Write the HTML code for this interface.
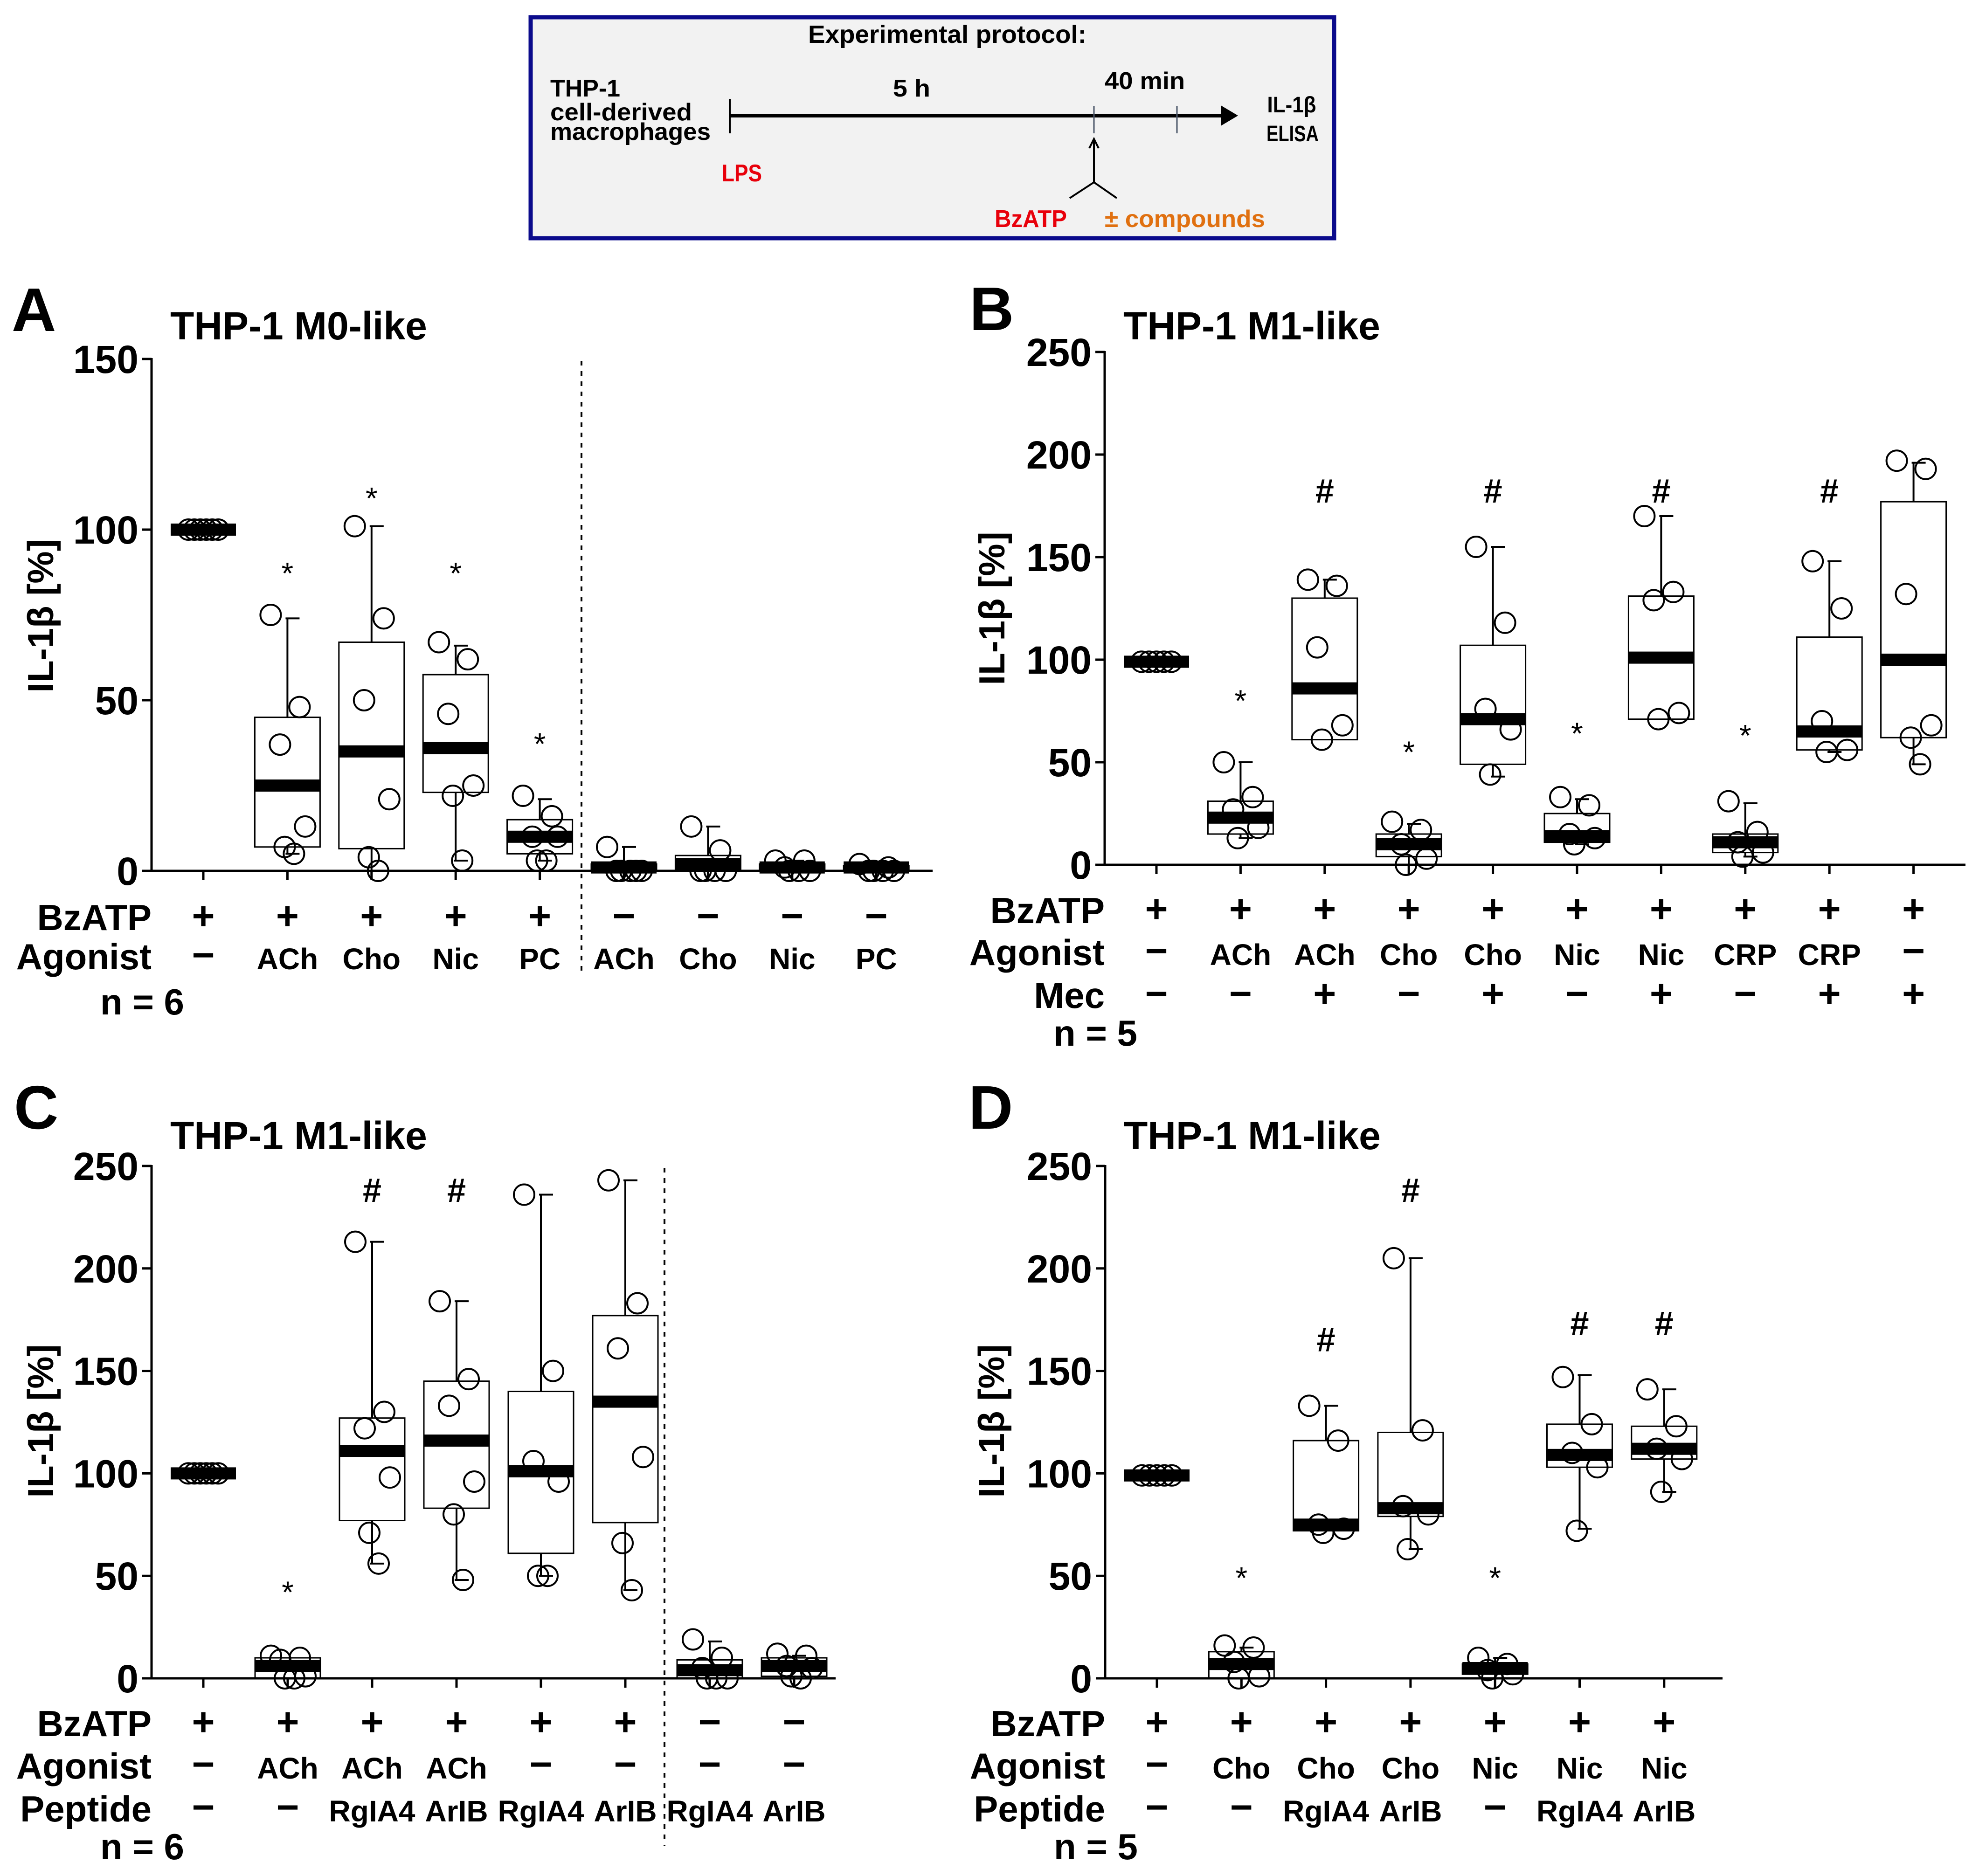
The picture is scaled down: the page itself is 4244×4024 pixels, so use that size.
<!DOCTYPE html>
<html><head><meta charset="utf-8"><title>IL-1β box plots</title>
<style>
html,body{margin:0;padding:0;background:#fff}
svg{display:block}
text{font-family:"Liberation Sans",sans-serif}
</style></head>
<body>
<svg id="fig" xmlns="http://www.w3.org/2000/svg" width="4244" height="4024" viewBox="0 0 4244 4024">
<rect x="0" y="0" width="4244" height="4024" fill="#fff"/>
<g id="protocol">
  <rect x="1138" y="37" width="1723" height="474" fill="#f2f2f2" stroke="#0b0b8c" stroke-width="9"/>
  <text x="1733" y="92" font-size="54" font-weight="bold" textLength="597" lengthAdjust="spacingAndGlyphs">Experimental protocol:</text>
  <text x="1180" y="207" font-size="52" font-weight="bold" textLength="150" lengthAdjust="spacingAndGlyphs">THP-1</text>
  <text x="1180" y="258" font-size="52" font-weight="bold" textLength="304" lengthAdjust="spacingAndGlyphs">cell-derived</text>
  <text x="1180" y="300" font-size="52" font-weight="bold" textLength="344" lengthAdjust="spacingAndGlyphs">macrophages</text>
  <line x1="1565" y1="212" x2="1565" y2="286" stroke="#000" stroke-width="4"/>
  <line x1="1565" y1="248" x2="2620" y2="248" stroke="#000" stroke-width="8"/>
  <polygon points="2655,248 2618,226 2618,270" fill="#000"/>
  <line x1="2346" y1="227" x2="2346" y2="286" stroke="#4a5568" stroke-width="3"/>
  <line x1="2524" y1="227" x2="2524" y2="286" stroke="#4a5568" stroke-width="3"/>
  <text x="1955" y="207" font-size="52" font-weight="bold" text-anchor="middle" textLength="80" lengthAdjust="spacingAndGlyphs">5 h</text>
  <text x="2455" y="191" font-size="52" font-weight="bold" text-anchor="middle" textLength="172" lengthAdjust="spacingAndGlyphs">40 min</text>
  <text x="2770" y="241" font-size="48" font-weight="bold" text-anchor="middle" textLength="105" lengthAdjust="spacingAndGlyphs">IL-1β</text>
  <text x="2772" y="303" font-size="48" font-weight="bold" text-anchor="middle" textLength="112" lengthAdjust="spacingAndGlyphs">ELISA</text>
  <line x1="2346" y1="300" x2="2346" y2="391" stroke="#000" stroke-width="4"/>
  <polyline points="2336,318 2346,298 2356,318" fill="none" stroke="#000" stroke-width="4"/>
  <polyline points="2294,425 2346,391 2395,425" fill="none" stroke="#000" stroke-width="4"/>
  <text x="1548" y="389" font-size="52" font-weight="bold" fill="#e8000b" textLength="86" lengthAdjust="spacingAndGlyphs">LPS</text>
  <text x="2133" y="487" font-size="52" font-weight="bold" fill="#e8000b" textLength="155" lengthAdjust="spacingAndGlyphs">BzATP</text>
  <text x="2369" y="487" font-size="52" font-weight="bold" fill="#e07010" textLength="344" lengthAdjust="spacingAndGlyphs">± compounds</text>
</g>
<g id="plots"></g>
</svg>
<script>
// ===== Panel A data =====
const aTicks = [0, 50, 100, 150];
const aMedian = [100, 25, 35, 36, 10, 1, 2, 1, 1];
const aQ1 = [100, 7, 6.5, 23, 5, 0, 0, 0, 0];
const aQ3 = [100, 45, 67, 57.5, 15, 2, 4.5, 2, 1.5];
const aWLow = [100, 5, 0, 3, 3, 0, 0, 0, 0];
const aWHigh = [100, 74, 101, 66, 21, 7, 13, 3, 2];
const aPoints = [[100,100,100,100,100,100],[75,48,37,13,7,5],[101,74,50,21,4,0],[67,62,46,25,22,3],[22,16,10,10,3,3],[7,0,0,0,0,0],[13,6,0,0,0,0],[3,3,1,0,0,0],[2,1,0,0,0,0]];
const aMarks = ['', '*', '*', '*', '*', '', '', '', ''];
const aMarkY = [0, 89, 111, 89, 39, 0, 0, 0, 0];
const aRowBzATP = ['+','+','+','+','+','−','−','−','−'];
const aRowAgonist = ['−','ACh','Cho','Nic','PC','ACh','Cho','Nic','PC'];

// ===== Panel B data =====
const bTicks = [0, 50, 100, 150, 200, 250];
const bMedian = [99, 23, 86, 10, 71, 14, 101, 11, 65, 100];
const bQ1 = [99, 15, 61, 4, 49, 11, 71, 6, 56, 62];
const bQ3 = [99, 31, 130, 15, 107, 25, 131, 15, 111, 177];
const bWLow = [99, 13, 61, 0, 43, 10, 71, 4, 55, 49];
const bWHigh = [99, 50, 139, 20, 155, 32, 170, 30, 148, 196];
const bPoints = [[99,99,99,99,99],[50,33,27,18,13],[139,136,106,68,61],[21,17,10,3,0],[155,118,76,66,44],[33,29,15,13,10],[170,133,129,74,71],[31,16,11,6,4],[148,125,70,56,55],[197,193,132,68,62,49]];
const bMarks = ['', '*', '#', '*', '#', '*', '#', '*', '#', ''];
const bMarkY = [0, 83, 182, 58, 182, 67, 182, 66, 182, 0];
const bRowBzATP = ['+','+','+','+','+','+','+','+','+','+'];
const bRowAgonist = ['−','ACh','ACh','Cho','Cho','Nic','Nic','CRP','CRP','−'];
const bRowMec = ['−','−','+','−','+','−','+','−','+','+'];

// ===== Panel C data =====
const cTicks = [0, 50, 100, 150, 200, 250];
const cMedian = [100, 6, 111, 116, 101, 135, 4, 6];
const cQ1 = [100, 0, 77, 83, 61, 76, 0, 1];
const cQ3 = [100, 10, 127, 145, 140, 177, 9, 10];
const cWLow = [100, 0, 56, 48, 50, 43, 0, 0];
const cWHigh = [100, 10, 213, 184, 236, 243, 18, 11];
const cPoints = [[100,100,100,100,100,100],[11,10,9,1,0,0],[213,130,122,98,71,56],[184,146,133,96,80,48],[236,150,106,96,50,50],[243,183,161,108,66,43],[19,10,5,0,0,0],[12,11,6,5,1,0]];
const cMarks = ['', '*', '#', '#', '', '', '', ''];
const cMarkY = [0, 45, 238, 238, 0, 0, 0, 0];
const cRowBzATP = ['+','+','+','+','+','+','−','−'];
const cRowAgonist = ['−','ACh','ACh','ACh','−','−','−','−'];
const cRowPeptide = ['−','−','RgIA4','ArIB','RgIA4','ArIB','RgIA4','ArIB'];

// ===== Panel D data =====
const dTicks = [0, 50, 100, 150, 200, 250];
const dMedian = [99, 7, 75, 83, 5, 109, 112];
const dQ1 = [99, 0, 72, 79, 2, 103, 107];
const dQ3 = [99, 13, 116, 120, 7, 124, 123];
const dWLow = [99, 0, 72, 63, 0, 73, 91];
const dWHigh = [99, 15, 133, 205, 10, 148, 141];
const dPoints = [[99,99,99,99,99],[16,15,8,1,0],[133,116,75,73,71],[205,121,84,80,63],[10,7,4,2,0],[147,124,110,103,72],[141,123,112,107,91]];
const dMarks = ['', '*', '#', '#', '*', '#', '#'];
const dMarkY = [0, 52, 165, 238, 52, 173, 173];
const dRowBzATP = ['+','+','+','+','+','+','+'];
const dRowAgonist = ['−','Cho','Cho','Cho','Nic','Nic','Nic'];
const dRowPeptide = ['−','−','RgIA4','ArIB','−','RgIA4','ArIB'];

const NS = 'http://www.w3.org/2000/svg';
const root = document.getElementById('plots');
function mk(tag, attrs, parent) {
  const e = document.createElementNS(NS, tag);
  for (const k in attrs) e.setAttribute(k, attrs[k]);
  parent.appendChild(e);
  return e;
}
const JIT = [-36, 26, -16, 38, -6, 14];

function drawPanel(P) {
  const g = mk('g', {}, root);
  
  
  const y = v => P.y0 - v * (P.y0 - P.yTop) / P.max;
  const x = i => P.cat0 + i * P.step;

  const L = mk('text', {x: P.letterX, y: P.letterY, 'font-size': 132, 'font-weight': 'bold'}, g);
  L.textContent = P.letter;
  
  
  const T = mk('text', {x: P.axisX + 40, y: P.titleY, 'font-size': 84, 'font-weight': 'bold'}, g);
  T.textContent = P.title;
  
  

  const YT = mk('text', {x: 0, y: 0, 'font-size': 78, 'font-weight': 'bold', 'text-anchor': 'middle', transform: 'translate(' + (P.yTitleX + 52) + ',' + P.yTitleY + ') rotate(-90)'}, g);
  YT.textContent = 'IL-1β [%]';
  
  

  const ya = mk('line', {x1: P.axisX, y1: P.yTop - 2, x2: P.axisX, y2: P.y0, stroke: '#000', 'stroke-width': 5}, g);
  
  
  const xa = mk('line', {x1: P.axisX, y1: P.y0, x2: P.axisEnd, y2: P.y0, stroke: '#000', 'stroke-width': 5}, g);
  
  

  P.ticks.forEach(t => {
    const tl = mk('line', {x1: P.axisX - 20, y1: y(t), x2: P.axisX, y2: y(t), stroke: '#000', 'stroke-width': 5}, g);
    
    
    const tx = mk('text', {x: P.axisX - 28, y: y(t) + 30, 'font-size': 84, 'font-weight': 'bold', 'text-anchor': 'end'}, g);
    tx.textContent = t;
    
    
  });

  if (P.dotX) {
    const dl = mk('line', {x1: P.dotX, y1: P.yTop + 4, x2: P.dotX, y2: P.dotBottom, stroke: '#000', 'stroke-width': 4, 'stroke-dasharray': '10 12'}, g);
    
    
  }

  const W = 140;
  P.median.forEach((m, i) => {
    const cx = x(i);
    const bg = mk('g', {}, g);
    
    
    mk('line', {x1: cx, y1: P.y0, x2: cx, y2: P.y0 + 20, stroke: '#000', 'stroke-width': 5}, bg);
    if (P.wHigh[i] > P.q3[i]) {
      mk('line', {x1: cx, y1: y(P.q3[i]), x2: cx, y2: y(P.wHigh[i]), stroke: '#000', 'stroke-width': 4}, bg);
      mk('line', {x1: cx - 4, y1: y(P.wHigh[i]), x2: cx + 26, y2: y(P.wHigh[i]), stroke: '#000', 'stroke-width': 4}, bg);
    }
    if (P.wLow[i] < P.q1[i]) {
      mk('line', {x1: cx, y1: y(P.q1[i]), x2: cx, y2: y(P.wLow[i]), stroke: '#000', 'stroke-width': 4}, bg);
      mk('line', {x1: cx - 4, y1: y(P.wLow[i]), x2: cx + 26, y2: y(P.wLow[i]), stroke: '#000', 'stroke-width': 4}, bg);
    }
    const h = Math.max(0, y(P.q1[i]) - y(P.q3[i]));
    if (h > 2) mk('rect', {x: cx - W / 2, y: y(P.q3[i]), width: W, height: h, fill: 'none', stroke: '#000', 'stroke-width': 3}, bg);
    mk('rect', {x: cx - W / 2, y: y(m) - 13, width: W, height: 26, fill: '#000'}, bg);
    const pts = P.points[i];
    const isCtrl = i === 0;
    pts.forEach((v, k) => {
      const off = isCtrl ? (-32 + 64 * k / Math.max(1, pts.length - 1)) : JIT[k % 6];
      const c = mk('circle', {cx: cx + off, cy: y(v), r: 22, fill: 'none', stroke: '#000', 'stroke-width': 4}, bg);
      
      
    });
    if (P.marks[i]) {
      const star = P.marks[i] === '*';
      const mt = mk('text', {x: cx, y: y(P.markY[i]) + (star ? 36 : 24), 'font-size': star ? 66 : 72, 'font-weight': star ? 'normal' : 'bold', 'text-anchor': 'middle'}, g);
      mt.textContent = P.marks[i];
      
      
    }
  });

  P.rows.forEach(r => {
    const lab = mk('text', {x: P.axisX, y: r.y, 'font-size': 78, 'font-weight': 'bold', 'text-anchor': 'end'}, g);
    lab.textContent = r.label;
    
    
    r.vals.forEach((s, i) => {
      const sign = (s === '+' || s === '−');
      const t = mk('text', {x: x(i), y: r.y - (sign ? 2 : 0), 'font-size': sign ? 84 : 64, 'font-weight': 'bold', 'text-anchor': 'middle'}, g);
      t.textContent = s;
      
      
    });
  });
  const n = mk('text', {x: P.axisX - 110, y: P.nY, 'font-size': 78, 'font-weight': 'bold'}, g);
  n.textContent = P.nText;
  
  
}

drawPanel({id: 'a', letter: 'A', letterX: 25, letterY: 710, title: 'THP-1 M0-like', titleY: 728,
  axisX: 325, y0: 1868, yTop: 770, max: 150, axisEnd: 2000, cat0: 436, step: 180.4,
  yTitleX: 62, yTitleY: 1321, dotX: 1247, dotBottom: 2089,
  ticks: aTicks, median: aMedian, q1: aQ1, q3: aQ3, wLow: aWLow, wHigh: aWHigh, points: aPoints, marks: aMarks, markY: aMarkY,
  rows: [{label: 'BzATP', y: 1995, vals: aRowBzATP}, {label: 'Agonist', y: 2079, vals: aRowAgonist}],
  nY: 2176, nText: 'n = 6'});

drawPanel({id: 'b', letter: 'B', letterX: 2079, letterY: 708, title: 'THP-1 M1-like', titleY: 728,
  axisX: 2369, y0: 1855, yTop: 755, max: 250, axisEnd: 4215, cat0: 2480, step: 180.4,
  yTitleX: 2102, yTitleY: 1305,
  ticks: bTicks, median: bMedian, q1: bQ1, q3: bQ3, wLow: bWLow, wHigh: bWHigh, points: bPoints, marks: bMarks, markY: bMarkY,
  rows: [{label: 'BzATP', y: 1980, vals: bRowBzATP}, {label: 'Agonist', y: 2070, vals: bRowAgonist}, {label: 'Mec', y: 2162, vals: bRowMec}],
  nY: 2243, nText: 'n = 5'});

drawPanel({id: 'c', letter: 'C', letterX: 30, letterY: 2421, title: 'THP-1 M1-like', titleY: 2465,
  axisX: 325, y0: 3600, yTop: 2501, max: 250, axisEnd: 1792, cat0: 436, step: 181,
  yTitleX: 62, yTitleY: 3048, dotX: 1425, dotBottom: 3960,
  ticks: cTicks, median: cMedian, q1: cQ1, q3: cQ3, wLow: cWLow, wHigh: cWHigh, points: cPoints, marks: cMarks, markY: cMarkY,
  rows: [{label: 'BzATP', y: 3724, vals: cRowBzATP}, {label: 'Agonist', y: 3815, vals: cRowAgonist}, {label: 'Peptide', y: 3907, vals: cRowPeptide}],
  nY: 3988, nText: 'n = 6'});

drawPanel({id: 'd', letter: 'D', letterX: 2077, letterY: 2421, title: 'THP-1 M1-like', titleY: 2465,
  axisX: 2370, y0: 3600, yTop: 2501, max: 250, axisEnd: 3694, cat0: 2481, step: 181.3,
  yTitleX: 2101, yTitleY: 3048,
  ticks: dTicks, median: dMedian, q1: dQ1, q3: dQ3, wLow: dWLow, wHigh: dWHigh, points: dPoints, marks: dMarks, markY: dMarkY,
  rows: [{label: 'BzATP', y: 3724, vals: dRowBzATP}, {label: 'Agonist', y: 3815, vals: dRowAgonist}, {label: 'Peptide', y: 3907, vals: dRowPeptide}],
  nY: 3988, nText: 'n = 5'});
</script>
</body></html>
